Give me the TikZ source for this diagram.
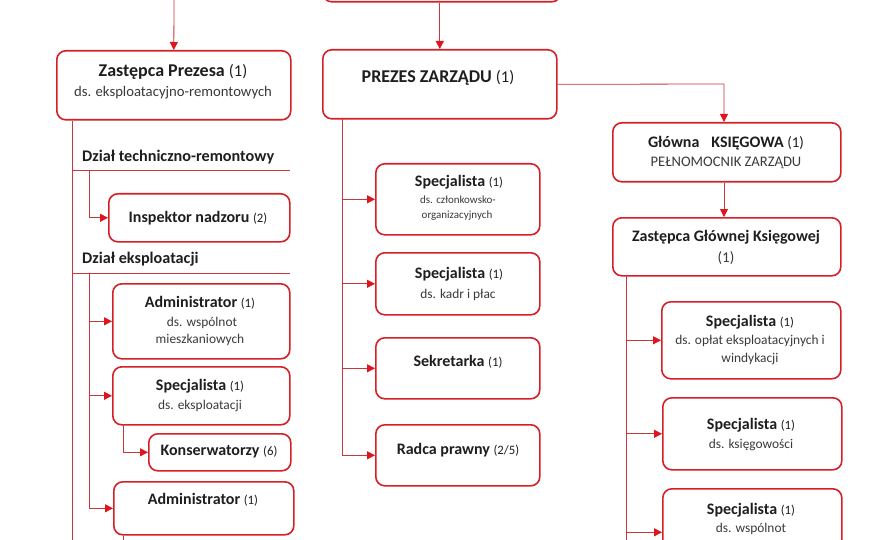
\documentclass[tikz,border=0pt]{standalone}
\usepackage{fontspec}
\setmainfont{Carlito}
\usetikzlibrary{arrows.meta}
\definecolor{bred}{HTML}{D42027}
\definecolor{lred}{HTML}{C8373B}
\definecolor{tred}{HTML}{E0141E}
\definecolor{txt}{HTML}{1E1E1E}
\definecolor{stxt}{HTML}{3A3A3A}
\tikzset{
  ubox/.style={draw=bred, line width=1.6pt, rounded corners=9pt, fill=white, inner sep=0pt},
  conn/.style={draw=lred, line width=0.8pt},
  arr/.style={conn, -{Triangle[width=8pt,length=8pt,color=tred]}},
  ttl/.style={text=txt, font=\fontsize{16}{18}\selectfont\bfseries, inner sep=0pt},
  htl/.style={text=txt, font=\fontsize{18}{20}\selectfont\bfseries, inner sep=0pt},
  sub/.style={text=stxt, font=\fontsize{13.4}{15}\selectfont, inner sep=0pt},
  hsub/.style={text=stxt, font=\fontsize{14.7}{16}\selectfont, inner sep=0pt},
  ssub/.style={text=stxt, font=\fontsize{11}{12}\selectfont, inner sep=0pt},
  dzial/.style={text=txt, font=\fontsize{16.2}{18}\selectfont\bfseries, inner sep=0pt, anchor=west},
}
\newcommand{\nm}[1]{{\mdseries\fontsize{12.8}{14}\selectfont #1}}
\newcommand{\hnm}[1]{{\mdseries\fontsize{16.5}{18}\selectfont #1}}
\newcommand{\gnm}[1]{{\mdseries\fontsize{15}{17}\selectfont #1}}
\newcommand{\ubx}[5]{\node[ubox, anchor=north west, minimum width={#4-#2}, minimum height={#5-#3}] (#1) at (#2,#3) {};}
\begin{document}
\begin{tikzpicture}[x=1pt,y=-1pt]
\useasboundingbox (0,0) rectangle (880,540);
\fill[white] (0,0) rectangle (880,540);
% boxes
\ubx{ceo}{322}{-40}{560}{1}
\ubx{zp}{56}{50}{290}{119}
\ubx{insp}{108}{193}{289}{241}
\ubx{adm}{112}{283}{289}{358}
\ubx{spe}{112}{366}{289}{424}
\ubx{kon}{148}{433}{290}{470}
\ubx{adm2}{113}{481}{293}{534}
\ubx{prez}{322}{49}{556}{118}
\ubx{sa}{375}{163}{539}{234}
\ubx{sb}{375}{252}{539}{314}
\ubx{sek}{375}{337}{539}{398}
\ubx{rad}{375}{424}{539}{485}
\ubx{gk}{612}{122}{840}{181}
\ubx{zgk}{612}{217}{840}{275}
\ubx{ra}{661}{301}{840}{378}
\ubx{rb}{662}{397}{841}{469}
\ubx{rc}{662}{488}{841}{575}
% texts
\node[htl] (t-zp1) at (173,72) {Zastępca Prezesa \hnm{(1)}};
\node[hsub] (t-zp2) at (173,93) {ds. eksploatacyjno-remontowych};
\node[dzial] (t-d1) at (82,157) {Dział techniczno-remontowy};
\node[dzial] (t-d2) at (82,259) {Dział eksploatacji};
\node[ttl] (t-insp) at (198,218) {Inspektor nadzoru \nm{(2)}};
\node[ttl] (t-adm1) at (200,303) {Administrator \nm{(1)}};
\node[sub] (t-adm2) at (202,323) {ds. wspólnot};
\node[sub] (t-adm3) at (200,340) {mieszkaniowych};
\node[ttl] (t-spe1) at (200,386) {Specjalista \nm{(1)}};
\node[sub] (t-spe2) at (200,406) {ds. eksploatacji};
\node[ttl] (t-kon) at (219,452) {Konserwatorzy \nm{(6)}};
\node[ttl] (t-adm21) at (203,500) {Administrator \nm{(1)}};
\node[htl] (t-prez) at (438,78) {PREZES ZARZĄDU \hnm{(1)}};
\node[ttl] (t-sa1) at (459,182) {Specjalista \nm{(1)}};
\node[ssub] (t-sa2) at (458,200) {ds. członkowsko-};
\node[ssub] (t-sa3) at (457,216) {organizacyjnych};
\node[ttl] (t-sb1) at (459,274) {Specjalista \nm{(1)}};
\node[sub] (t-sb2) at (458,295) {ds. kadr i płac};
\node[ttl] (t-sek) at (458,362) {Sekretarka \nm{(1)}};
\node[ttl] (t-rad) at (458,450) {Radca prawny \nm{(2/5)}};
\node[ttl] (t-gk1) at (726,143) {Główna\hspace{0.75em}KSIĘGOWA \gnm{(1)}};
\node[sub] (t-gk2) at (726,163) {\fontsize{14.6}{16}\selectfont PEŁNOMOCNIK ZARZĄDU};
\node[ttl] (t-zgk1) at (726,237) {Zastępca Głównej Księgowej};
\node[sub] (t-zgk2) at (726,258) {\fontsize{15}{17}\selectfont(1)};
\node[ttl] (t-ra1) at (750,322) {Specjalista \nm{(1)}};
\node[sub] (t-ra2) at (750,341) {ds. opłat eksploatacyjnych i};
\node[sub] (t-ra3) at (750,359) {windykacji};
\node[ttl] (t-rb1) at (751,425) {Specjalista \nm{(1)}};
\node[sub] (t-rb2) at (751,445) {ds. księgowości};
\node[ttl] (t-rc1) at (751,510) {Specjalista \nm{(1)}};
\node[sub] (t-rc2) at (751,529) {ds. wspólnot};
% coordinates
\coordinate (top1) at (174,0);
\coordinate (lbot) at (72,540);
\coordinate (h1a) at (72,170);
\coordinate (h1b) at (290,170);
\coordinate (h2a) at (72,273);
\coordinate (h2b) at (290,273);
\coordinate (b1) at (89,170);
\coordinate (b2) at (89,273);
\coordinate (b3) at (123,424);
\coordinate (b4) at (123,540);
\coordinate (c1) at (342,118);
\coordinate (rt) at (724,84);
\coordinate (rl) at (626,275);
\coordinate (rbot) at (626,540);
% connectors
\draw[arr] (top1) -- (zp.north);
\draw[arr] (ceo.south -| prez.north) -- (prez.north);
\draw[conn] (zp.south west -| lbot) -- (lbot);
\draw[conn] (h1a) -- (h1b);
\draw[conn] (h2a) -- (h2b);
\draw[arr] (b1) |- (insp.west);
\draw[arr] (b2) |- (adm.west);
\draw[arr] (b2) |- (spe.west);
\draw[arr] (b2) |- (adm2.west);
\draw[arr] (b3) |- (kon.west);
\draw[conn] (adm2.south -| b4) -- (b4);
\draw[arr] (c1) |- (sa.west);
\draw[arr] (c1) |- (sb.west);
\draw[arr] (c1) |- (sek.west);
\draw[arr] (c1) |- (rad.west);
\draw[arr] (prez.east) -- (rt) -- (rt |- gk.north);
\draw[arr] (gk.south -| rt) -- (zgk.north -| rt);
\draw[conn] (rl) -- (rbot);
\draw[arr] (rl) |- (ra.west);
\draw[arr] (rl) |- (rb.west);
\draw[arr] (rl) |- (rc.west);
\end{tikzpicture}
\end{document}
